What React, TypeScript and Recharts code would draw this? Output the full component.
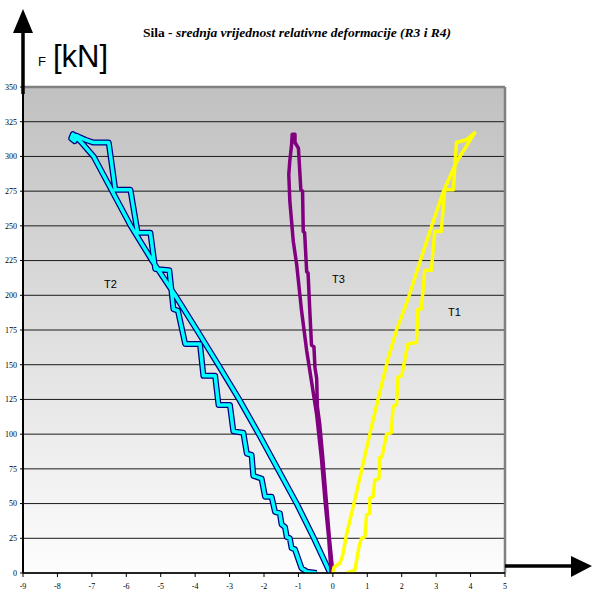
import { CartesianGrid, Line, LineChart, ReferenceLine, XAxis, YAxis } from "recharts";

const xTicks = [-9, -8, -7, -6, -5, -4, -3, -2, -1, 0, 1, 2, 3, 4, 5];
const yTicks = [0, 25, 50, 75, 100, 125, 150, 175, 200, 225, 250, 275, 300, 325, 350];

// [deformacija, sila kN]
const t2Loop: [number, number][] = [
  [-0.08, 0], [-0.55, 25], [-1.05, 50], [-1.6, 75], [-2.15, 100], [-2.72, 125], [-3.33, 150],
  [-3.95, 175], [-4.58, 200], [-5.25, 225], [-5.87, 250], [-6.41, 275], [-6.95, 300], [-7.3, 310],
  [-7.55, 316], [-7.6, 313], [-7.5, 311], [-7.45, 315], [-7.19, 312], [-6.95, 310], [-6.51, 310],
  [-6.32, 276], [-5.88, 276], [-5.67, 245], [-5.3, 245], [-5.16, 219], [-4.75, 218], [-4.63, 190],
  [-4.5, 189], [-4.29, 165], [-3.86, 165], [-3.76, 142], [-3.42, 142], [-3.32, 121], [-2.99, 121],
  [-2.89, 102], [-2.6, 101], [-2.5, 86], [-2.36, 85], [-2.31, 70], [-2.07, 68], [-1.97, 55],
  [-1.78, 55], [-1.68, 44], [-1.54, 43], [-1.49, 35], [-1.39, 33], [-1.34, 26], [-1.25, 25],
  [-1.2, 18], [-1.1, 17], [-0.91, 3.5], [-0.76, 1], [-0.47, 0],
];

const t3Loop: [number, number][] = [
  [-0.05, 0], [-0.12, 25], [-0.22, 50], [-0.33, 82], [-0.47, 114], [-0.62, 138], [-0.76, 160],
  [-0.91, 189], [-1.05, 222], [-1.15, 239], [-1.25, 268], [-1.28, 287], [-1.25, 297], [-1.2, 308],
  [-1.18, 316], [-1.1, 316], [-1.1, 310], [-1.0, 306], [-0.93, 276], [-0.88, 275], [-0.86, 246],
  [-0.82, 245], [-0.76, 217], [-0.72, 216], [-0.67, 189], [-0.62, 164], [-0.55, 163], [-0.52, 148],
  [-0.47, 140], [-0.45, 120], [-0.38, 107], [-0.3, 85], [-0.2, 55], [-0.1, 25], [0.0, 0],
];

const t1Loop: [number, number][] = [
  [0.0, 0], [0.03, 4], [0.2, 7], [0.28, 12], [0.4, 28], [0.64, 53], [0.88, 79], [1.12, 105],
  [1.36, 130], [1.6, 154], [1.85, 175], [2.18, 197], [2.62, 231], [2.9, 252], [3.2, 274],
  [3.59, 296], [4.12, 317], [3.88, 312], [3.59, 310], [3.5, 276], [3.25, 276], [3.15, 246],
  [2.96, 246], [2.86, 218], [2.67, 218], [2.57, 190], [2.47, 190], [2.43, 166], [2.18, 165],
  [2.0, 142], [1.89, 141], [1.85, 121], [1.75, 120], [1.7, 101], [1.56, 100], [1.43, 84],
  [1.36, 83], [1.34, 68], [1.22, 67], [1.17, 55], [1.07, 54], [1.07, 43], [0.98, 42],
  [0.93, 26], [0.83, 25], [0.76, 19], [0.64, 2], [0.4, 0],
];

const toRows = (pts: [number, number][]) => pts.map(([x, f]) => ({ x, f }));

const tickStyle = { fontFamily: "Liberation Serif", fontSize: 8, fill: "#000" };

export default function App() {
  return (
    <div style={{ position: "absolute", left: 0, top: 0, width: 596, height: 592, background: "#fff" }}>
      <LineChart width={596} height={592} margin={{ top: 87, right: 91, bottom: 0, left: 0 }}>
        <defs>
          <linearGradient id="bg" x1="0" y1="0" x2="0" y2="1">
            <stop offset="0%" stopColor="#c0c0c0" />
            <stop offset="100%" stopColor="#fdfdfd" />
          </linearGradient>
        </defs>
        <CartesianGrid vertical={false} stroke="#1a1a1a" strokeWidth={1} fill="url(#bg)" fillOpacity={1} />
        <XAxis
          type="number"
          dataKey="x"
          domain={[-9, 5]}
          ticks={xTicks}
          allowDataOverflow
          height={19}
          tickSize={4}
          tickMargin={6}
          tick={tickStyle}
          axisLine={{ stroke: "#000", strokeWidth: 1.5 }}
          tickLine={{ stroke: "#000" }}
        />
        <YAxis
          type="number"
          dataKey="f"
          domain={[0, 350]}
          ticks={yTicks}
          allowDataOverflow
          width={23}
          tickSize={3}
          tickMargin={3}
          tick={tickStyle}
          axisLine={{ stroke: "#000", strokeWidth: 2 }}
          tickLine={{ stroke: "#000" }}
        />
        <ReferenceLine y={350} stroke="#808080" strokeWidth={2.5} />
        <ReferenceLine x={5} stroke="#808080" strokeWidth={2.5} />
        <Line data={toRows(t2Loop)} dataKey="f" type="linear" stroke="#000080" strokeWidth={6} dot={false} strokeLinejoin="round" isAnimationActive={false} />
        <Line data={toRows(t2Loop)} dataKey="f" type="linear" stroke="#00ffff" strokeWidth={3.5} dot={false} strokeLinejoin="round" isAnimationActive={false} />
        <Line data={toRows(t3Loop)} dataKey="f" type="linear" stroke="#800080" strokeWidth={3.5} dot={false} strokeLinejoin="round" isAnimationActive={false} />
        <Line data={toRows(t1Loop)} dataKey="f" type="linear" stroke="#ffff00" strokeWidth={3.5} dot={false} strokeLinejoin="round" isAnimationActive={false} />
      </LineChart>
      <svg width={596} height={592} style={{ position: "absolute", left: 0, top: 0, pointerEvents: "none" }}>
        <text x={297} y={37} textAnchor="middle" fontFamily="Liberation Serif" fontSize={13.5} fontWeight="bold">
          <tspan>Sila - </tspan>
          <tspan fontStyle="italic">srednja vrijednost relativne deformacije (R3 i R4)</tspan>
        </text>
        <line x1={23} y1={30} x2={23} y2={94} stroke="#000" strokeWidth={3.5} />
        <polygon points="13,33 33,33 23,9" fill="#000" />
        <line x1={505} y1={566} x2={574} y2={566} stroke="#000" strokeWidth={3.5} />
        <polygon points="571,556 571,577 592,566" fill="#000" />
        <text x={38} y={66} fontFamily="Liberation Sans" fontSize={13}>F</text>
        <text x={53} y={67} fontFamily="Liberation Sans" fontSize={31}>[kN]</text>
        <text x={104} y={288} fontFamily="Liberation Sans" fontSize={11}>T2</text>
        <text x={332} y={283} fontFamily="Liberation Sans" fontSize={11}>T3</text>
        <text x={448} y={316} fontFamily="Liberation Sans" fontSize={11}>T1</text>
      </svg>
    </div>
  );
}
